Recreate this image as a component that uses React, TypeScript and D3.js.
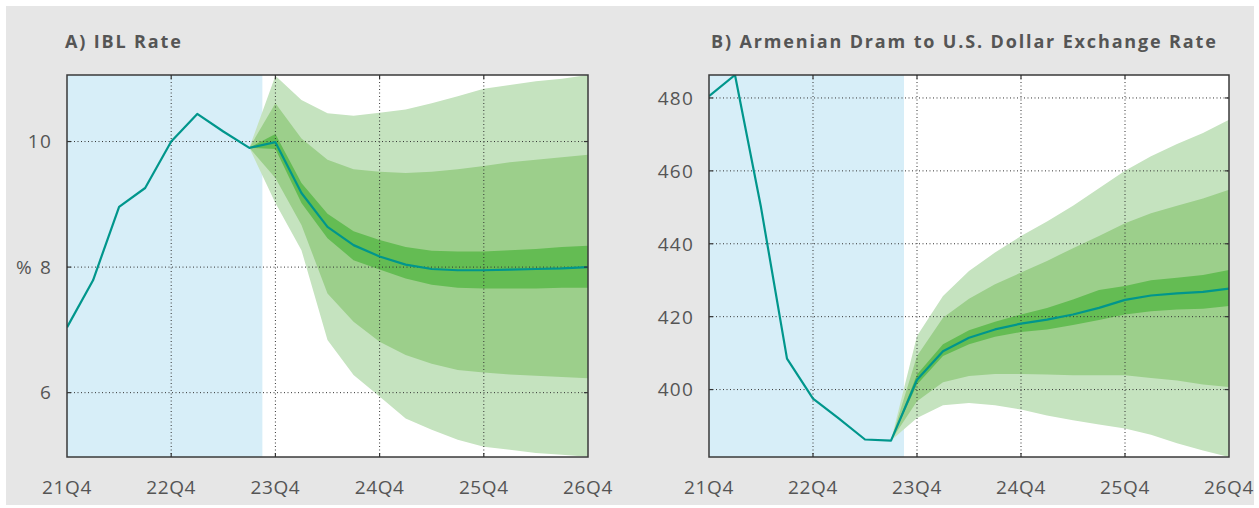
import React, { useEffect, useRef } from 'react';
import * as d3 from 'd3';

// quarters on the x axis, 21Q4 .. 26Q4
const quarters = [
  '21Q4', '22Q1', '22Q2', '22Q3', '22Q4', '23Q1', '23Q2', '23Q3', '23Q4',
  '24Q1', '24Q2', '24Q3', '24Q4', '25Q1', '25Q2', '25Q3', '25Q4',
  '26Q1', '26Q2', '26Q3', '26Q4',
];
const xTickLabels = ['21Q4', '22Q4', '23Q4', '24Q4', '25Q4', '26Q4'];
// fan starts at the last observed quarter
const fanQuarters = quarters.slice(7);

// A) IBL rate, %
const iblLine = [7.04, 7.79, 8.96, 9.26, 10.0, 10.44, 10.16, 9.9, 9.99, 9.18, 8.64, 8.35, 8.17, 8.04, 7.97, 7.95, 7.95, 7.96, 7.97, 7.98, 8.0];
const iblOuterHi = [9.9, 11.05, 10.66, 10.45, 10.41, 10.46, 10.51, 10.61, 10.72, 10.84, 10.9, 10.96, 11.0, 11.06];
const iblMidHi = [9.9, 10.61, 10.05, 9.71, 9.56, 9.52, 9.5, 9.52, 9.56, 9.61, 9.67, 9.71, 9.75, 9.79];
const iblInnerHi = [9.9, 10.12, 9.34, 8.85, 8.57, 8.43, 8.32, 8.26, 8.25, 8.25, 8.27, 8.29, 8.32, 8.34];
const iblInnerLo = [9.9, 9.88, 9.02, 8.46, 8.11, 7.96, 7.82, 7.72, 7.67, 7.66, 7.66, 7.66, 7.67, 7.67];
const iblMidLo = [9.9, 9.42, 8.67, 7.58, 7.13, 6.81, 6.6, 6.46, 6.36, 6.32, 6.29, 6.27, 6.25, 6.23];
const iblOuterLo = [9.9, 9.02, 8.27, 6.84, 6.28, 5.94, 5.59, 5.41, 5.25, 5.14, 5.09, 5.04, 5.01, 4.98];
const iblTicks = [6, 8, 10];

// B) AMD per USD
const amdLine = [480.5, 486.3, 450.0, 408.5, 397.5, 392.0, 386.3, 386.0, 402.7, 410.5, 414.2, 416.5, 418.1, 419.2, 420.6, 422.4, 424.6, 425.8, 426.4, 426.8, 427.7];
const amdOuterHi = [386.0, 414.7, 425.7, 432.5, 437.6, 442.1, 446.1, 450.4, 455.2, 460.0, 464.0, 467.4, 470.4, 474.0];
const amdMidHi = [386.0, 409.2, 419.7, 424.9, 428.9, 432.1, 435.3, 438.8, 442.1, 445.6, 448.4, 450.4, 452.4, 454.8];
const amdInnerHi = [386.0, 404.1, 412.4, 416.3, 418.6, 420.6, 422.4, 424.7, 427.3, 428.4, 430.0, 430.7, 431.4, 432.8];
const amdInnerLo = [386.0, 401.4, 409.2, 412.4, 414.5, 415.8, 416.5, 417.7, 419.1, 420.6, 421.5, 422.0, 422.2, 422.9];
const amdMidLo = [386.0, 396.8, 402.0, 403.7, 404.3, 404.3, 404.1, 403.9, 403.9, 403.9, 403.2, 402.5, 401.4, 400.7];
const amdOuterLo = [386.0, 392.2, 395.7, 396.3, 395.7, 394.5, 392.9, 391.6, 390.4, 389.3, 387.6, 385.3, 383.3, 381.5];
const amdTicks = [400, 420, 440, 460, 480];

const W = 1259;
const H = 508;
const FONT = '"Open Sans", Lato, sans-serif';
const TEXT = '#555';

interface PanelSpec {
  id: string;
  title: string;
  titleX: number;
  left: number;
  right: number;
  domain: [number, number];
  yTicks: number[];
  unit?: string;
  line: number[];
  bands: [number[], number[], string][];
}

const App: React.FC = () => {
  const svgRef = useRef<SVGSVGElement>(null);

  useEffect(() => {
    if (!svgRef.current) return;
    const svg = d3.select(svgRef.current);
    svg.selectAll('*').remove();

    svg.append('rect')
      .attr('x', 6).attr('y', 6)
      .attr('width', 1248).attr('height', 499)
      .attr('fill', '#e6e6e6');

    const top = 75;
    const bottom = 457;

    const panels: PanelSpec[] = [
      {
        id: 'a', title: 'A) IBL Rate', titleX: 65, left: 67, right: 588,
        domain: [4.975, 11.06], yTicks: iblTicks, unit: '%',
        line: iblLine,
        bands: [
          [iblOuterLo, iblOuterHi, '#c5e3bf'],
          [iblMidLo, iblMidHi, '#9ccf8b'],
          [iblInnerLo, iblInnerHi, '#64bc53'],
        ],
      },
      {
        id: 'b', title: 'B) Armenian Dram to U.S. Dollar Exchange Rate', titleX: 711, left: 709, right: 1229,
        domain: [381.5, 486.3], yTicks: amdTicks,
        line: amdLine,
        bands: [
          [amdOuterLo, amdOuterHi, '#c5e3bf'],
          [amdMidLo, amdMidHi, '#9ccf8b'],
          [amdInnerLo, amdInnerHi, '#64bc53'],
        ],
      },
    ];

    panels.forEach(p => {
      const x = d3.scalePoint<string>().domain(quarters).range([p.left, p.right]);
      const y = d3.scaleLinear().domain(p.domain).range([bottom, top]);
      const clipId = `clip-${p.id}`;

      svg.append('clipPath').attr('id', clipId)
        .append('rect')
        .attr('x', p.left).attr('y', top)
        .attr('width', p.right - p.left).attr('height', bottom - top);

      const g = svg.append('g');
      const plot = g.append('g').attr('clip-path', `url(#${clipId})`);

      plot.append('rect')
        .attr('x', p.left).attr('y', top)
        .attr('width', p.right - p.left).attr('height', bottom - top)
        .attr('fill', '#fff');

      // history shading ends halfway between 23Q3 and 23Q4
      const shadeEnd = ((x('23Q3') as number) + (x('23Q4') as number)) / 2;
      plot.append('rect')
        .attr('x', p.left).attr('y', top)
        .attr('width', shadeEnd - p.left).attr('height', bottom - top)
        .attr('fill', '#d7eef8');

      // fan bands
      p.bands.forEach(([lo, hi, color]) => {
        const area = d3.area<number>()
          .x((_, i) => x(fanQuarters[i]) as number)
          .y0((_, i) => y(lo[i]))
          .y1(d => y(d));
        plot.append('path')
          .datum(hi)
          .attr('fill', color)
          .attr('d', area);
      });

      // grid
      const gridX = xTickLabels.slice(1, -1);
      plot.selectAll(null)
        .data(gridX)
        .enter().append('line')
        .attr('x1', d => x(d) as number).attr('x2', d => x(d) as number)
        .attr('y1', top).attr('y2', bottom)
        .attr('stroke', '#333')
        .attr('stroke-width', 1)
        .attr('stroke-dasharray', '1,2.5');
      plot.selectAll(null)
        .data(p.yTicks)
        .enter().append('line')
        .attr('x1', p.left).attr('x2', p.right)
        .attr('y1', d => y(d)).attr('y2', d => y(d))
        .attr('stroke', '#333')
        .attr('stroke-width', 1)
        .attr('stroke-dasharray', '1,2.5');

      // central line
      const line = d3.line<number>()
        .x((_, i) => x(quarters[i]) as number)
        .y(d => y(d));
      plot.append('path')
        .datum(p.line)
        .attr('fill', 'none')
        .attr('stroke', '#00968c')
        .attr('stroke-width', 2.2)
        .attr('stroke-linejoin', 'round')
        .attr('d', line);

      // small inward ticks on all four sides
      const tl = 4;
      gridX.forEach(q => {
        const xx = x(q) as number;
        g.append('line').attr('x1', xx).attr('x2', xx).attr('y1', bottom).attr('y2', bottom - tl)
          .attr('stroke', '#333').attr('stroke-width', 1.2);
        g.append('line').attr('x1', xx).attr('x2', xx).attr('y1', top).attr('y2', top + tl)
          .attr('stroke', '#333').attr('stroke-width', 1.2);
      });
      p.yTicks.forEach(t => {
        const yy = y(t);
        g.append('line').attr('x1', p.left).attr('x2', p.left + tl).attr('y1', yy).attr('y2', yy)
          .attr('stroke', '#333').attr('stroke-width', 1.2);
        g.append('line').attr('x1', p.right).attr('x2', p.right - tl).attr('y1', yy).attr('y2', yy)
          .attr('stroke', '#333').attr('stroke-width', 1.2);
      });

      // frame
      g.append('rect')
        .attr('x', p.left).attr('y', top)
        .attr('width', p.right - p.left).attr('height', bottom - top)
        .attr('fill', 'none')
        .attr('stroke', '#3a3a3a')
        .attr('stroke-width', 1.5);

      // tick labels
      g.selectAll(null)
        .data(xTickLabels)
        .enter().append('text')
        .attr('x', d => x(d) as number)
        .attr('y', 494)
        .attr('text-anchor', 'middle')
        .attr('font-family', FONT)
        .attr('font-size', 19)
        .attr('letter-spacing', 0.6)
        .attr('fill', TEXT)
        .text(d => d);

      g.selectAll(null)
        .data(p.yTicks)
        .enter().append('text')
        .attr('x', p.left - 15)
        .attr('y', d => y(d))
        .attr('dy', '0.36em')
        .attr('text-anchor', 'end')
        .attr('font-family', FONT)
        .attr('font-size', 19)
        .attr('letter-spacing', 1.2)
        .attr('fill', TEXT)
        .text(d => d);

      if (p.unit) {
        g.append('text')
          .attr('x', 16)
          .attr('y', y(p.yTicks[1]))
          .attr('dy', '0.36em')
          .attr('font-family', FONT)
          .attr('font-size', 19)
          .attr('fill', TEXT)
          .text(p.unit);
      }

      g.append('text')
        .attr('x', p.titleX)
        .attr('y', 48)
        .attr('font-family', FONT)
        .attr('font-weight', 700)
        .attr('font-size', 18)
        .attr('letter-spacing', 1.85)
        .attr('fill', TEXT)
        .text(p.title);
    });
  }, []);

  return (
    <div style={{ position: 'absolute', left: 0, top: 0 }}>
      <svg ref={svgRef} width={W} height={H} style={{ display: 'block' }}></svg>
    </div>
  );
};

export default App;
